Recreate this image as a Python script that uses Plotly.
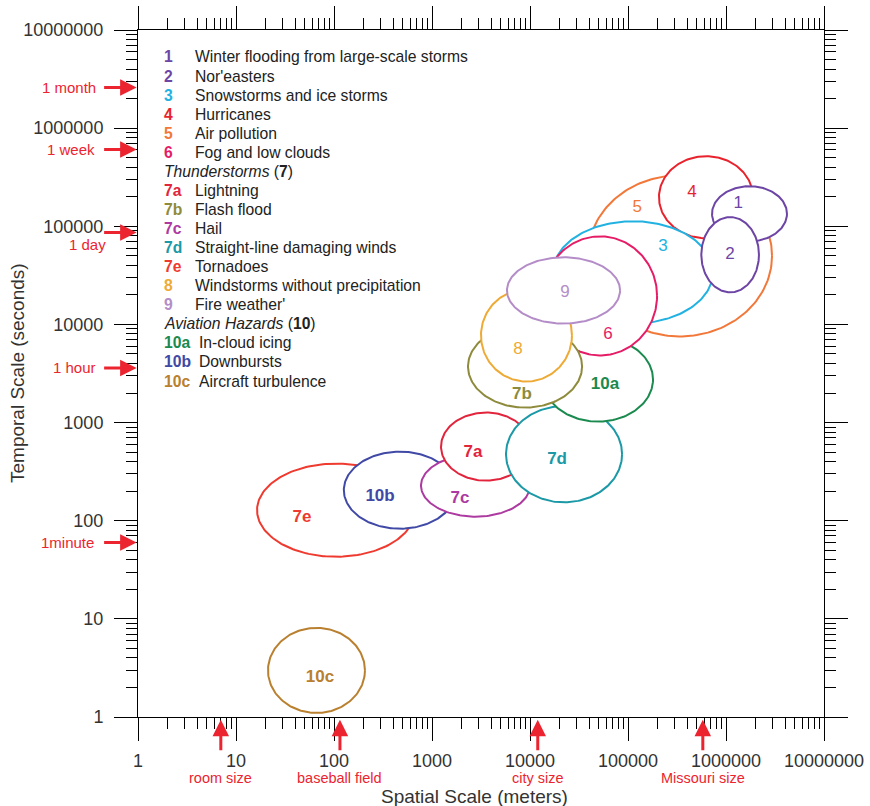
import numpy as np
import plotly.graph_objects as go

# ---------------- data ----------------
ids = ["1", "2", "3", "4", "5", "6", "7a", "7b", "7c", "7d", "7e", "8", "9", "10a", "10b", "10c"]
names = ["Winter flooding from large-scale storms", "Nor'easters", "Snowstorms and ice storms",
         "Hurricanes", "Air pollution", "Fog and low clouds", "Lightning", "Flash flood", "Hail",
         "Straight-line damaging winds", "Tornadoes", "Windstorms without precipitation",
         "Fire weather'", "In-cloud icing", "Downbursts", "Aircraft turbulence"]
colors = ["#6d45a5", "#6d45a5", "#22b2e2", "#e8232d", "#f2783a", "#e61c66", "#e2243c", "#8e8b3c",
          "#ad3aa0", "#1b99a6", "#ef3a30", "#eeaa35", "#b48dc8", "#1b8a4f", "#4049a6", "#b98030"]
# spatial extent (m) and temporal extent (s) of each phenomenon
space_min = [7.2e5, 5.6e5, 1.72e4, 2.07e5, 3.9e4, 1.36e4, 1236, 2330, 772, 5690, 16.4, 3160, 5820, 1.36e4, 126, 21.2]
space_max = [4.19e6, 2.17e6, 7.36e5, 1.89e6, 2.95e6, 1.98e5, 1.02e4, 3.4e4, 1.0e4, 8.7e4, 671, 2.68e4, 8.3e4, 1.8e5, 1758, 207]
time_min = [7.03e4, 2.12e4, 1.02e4, 7.55e4, 7550, 4830, 256, 1422, 110, 154, 42.9, 2620, 1.02e4, 1024, 82.9, 1.1]
time_max = [2.56e5, 1.24e5, 1.125e5, 5.18e5, 3.31e5, 7.9e4, 1265, 9770, 471, 1473, 382, 2.28e4, 4.83e4, 7370, 506, 8.1]
# label anchor (m, s)
label_x = [1.33e6, 1.1e6, 2.28e5, 4.5e5, 1.24e5, 6.25e4, 2620, 8280, 1930, 1.89e4, 47.2, 7550, 2.28e4, 5.82e4, 295, 71.9]
label_y = [1.68e5, 5.18e4, 6.25e4, 2.22e5, 1.56e5, 7910, 494, 1930, 168, 419, 107, 5560, 2.12e4, 2443, 176, 2.5]
label_bold = [False, False, False, False, False, False, True, True, True, True, True, False, False, True, True, True]
# drawing order (bottom to top)
draw_order = ["5", "4", "3", "1", "2", "7e", "10b", "7c", "7a", "7d", "10a", "6", "7b", "8", "9", "10c"]

tick_vals = [1, 10, 100, 1000, 10000, 100000, 1000000, 10000000]
tick_text = ["1", "10", "100", "1000", "10000", "100000", "1000000", "10000000"]

time_marks = ["1 month", "1 week", "1 day", "1 hour", "1minute"]
time_mark_vals = [2.592e6, 6.048e5, 86400, 3600, 60]
space_marks = ["room size", "baseball field", "city size", "Missouri size"]
space_mark_vals = [7, 115, 12000, 580000]

# ---------------- figure ----------------
W, H = 870, 806
ML, MR, MT, MB = 138, 46, 30, 89
PW, PH = W - ML - MR, H - MT - MB
RED = "#ec2430"
FONT = "Liberation Sans, Arial, sans-serif"


def px2paper(px, py):
    return (px - ML) / PW, (H - MB - py) / PH


fig = go.Figure()
t = np.linspace(0, 2 * np.pi, 200)
for key in draw_order:
    i = ids.index(key)
    lx0, lx1 = np.log10(space_min[i]), np.log10(space_max[i])
    ly0, ly1 = np.log10(time_min[i]), np.log10(time_max[i])
    cx, cy = (lx0 + lx1) / 2, (ly0 + ly1) / 2
    rx, ry = (lx1 - lx0) / 2, (ly1 - ly0) / 2
    fig.add_trace(go.Scatter(
        x=10 ** (cx + rx * np.cos(t)), y=10 ** (cy + ry * np.sin(t)),
        mode="lines", fill="toself", fillcolor="white",
        line=dict(color=colors[i], width=2), hoverinfo="skip", showlegend=False))

fig.add_trace(go.Scatter(
    x=label_x, y=label_y, mode="text",
    text=[f"<b>{s}</b>" if b else s for s, b in zip(ids, label_bold)],
    textfont=dict(family=FONT, size=17, color=colors),
    hoverinfo="skip", showlegend=False))

ann = []
# legend block
rows = []
for i in range(6):
    rows.append((ids[i], names[i], colors[i]))
rows.append((None, "<i>Thunderstorms</i> (<b>7</b>)", None))
for i in range(6, 13):
    rows.append((ids[i], names[i], colors[i]))
rows.append((None, "<i>Aviation Hazards</i> (<b>10</b>)", None))
for i in range(13, 16):
    rows.append((ids[i], names[i], colors[i]))
LEG = 15.7
for r, (num, txt, col) in enumerate(rows):
    py = 57 + r * 19.06
    if num is None:
        x, y = px2paper(162, py)
        ann.append(dict(x=x, y=y, xref="paper", yref="paper", text=txt, showarrow=False,
                        xanchor="left", yanchor="middle", font=dict(family=FONT, size=LEG, color="#222")))
    else:
        x, y = px2paper(162, py)
        ann.append(dict(x=x, y=y, xref="paper", yref="paper", text=f"<b>{num}</b>", showarrow=False,
                        xanchor="left", yanchor="middle", font=dict(family=FONT, size=LEG, color=col)))
        tx = 193 if len(num) < 3 else 197
        x, y = px2paper(tx, py)
        ann.append(dict(x=x, y=y, xref="paper", yref="paper", text=txt, showarrow=False,
                        xanchor="left", yanchor="middle", font=dict(family=FONT, size=LEG, color="#222")))

# time markers (left)
label_dx = [98, 97, 108, 98, 96]
label_dy = [0, 0, 12, 0, 0]
for name, val, lx, dy in zip(time_marks, time_mark_vals, label_dx, label_dy):
    ann.append(dict(x=-0.002, xref="paper", y=np.log10(val), yref="y", ax=-34, ay=0,
                    showarrow=True, arrowhead=2, arrowsize=1.1, arrowwidth=3, arrowcolor=RED, text=""))
    x, _ = px2paper(lx, 0)
    ann.append(dict(x=x, xref="paper", y=np.log10(val), yref="y", yshift=-dy, text=name,
                    showarrow=False, xanchor="right", yanchor="middle",
                    font=dict(family=FONT, size=15, color=RED)))
# space markers (bottom)
for name, val in zip(space_marks, space_mark_vals):
    ann.append(dict(x=np.log10(val), xref="x", y=-0.004, yref="paper", ax=0, ay=32,
                    showarrow=True, arrowhead=2, arrowsize=1.1, arrowwidth=3, arrowcolor=RED, text=""))
    _, y = px2paper(0, 778)
    ann.append(dict(x=np.log10(val), xref="x", y=y, yref="paper", text=name, showarrow=False,
                    xanchor="center", yanchor="middle", font=dict(family=FONT, size=14.5, color=RED)))

# axis titles
x, y = px2paper(474, 796)
ann.append(dict(x=x, y=y, xref="paper", yref="paper", text="Spatial Scale (meters)", showarrow=False,
                xanchor="center", yanchor="middle", font=dict(family=FONT, size=19, color="#333")))
x, y = px2paper(17, 373)
ann.append(dict(x=x, y=y, xref="paper", yref="paper", text="Temporal Scale (seconds)", showarrow=False,
                textangle=-90, xanchor="center", yanchor="middle", font=dict(family=FONT, size=19, color="#333")))

minor_vals = [k * 10 ** d for d in range(7) for k in range(2, 10)]
axis_common = dict(
    type="log", range=[0, 7], showgrid=False, zeroline=False, automargin=False,
    showline=True, linecolor="black", linewidth=1, mirror="ticks",
    ticks="outside", ticklen=23, tickwidth=1, tickcolor="black",
    tickmode="array", tickvals=tick_vals, ticktext=tick_text,
    tickfont=dict(family=FONT, size=18, color="#333"),
    minor=dict(ticks="outside", ticklen=11, tickwidth=1, tickcolor="black",
               tickmode="array", tickvals=minor_vals, showgrid=False),
)
fig.update_layout(
    width=W, height=H, margin=dict(l=ML, r=MR, t=MT, b=MB),
    paper_bgcolor="white", plot_bgcolor="white",
    xaxis=axis_common, yaxis=axis_common,
    annotations=ann, showlegend=False,
)
fig.update_xaxes(ticklabelstandoff=4)
fig.update_yaxes(ticklabelstandoff=7)
fig.write_html("out.html", config={"displayModeBar": False},
               post_script="document.body.style.margin='0';document.body.style.padding='0';")
